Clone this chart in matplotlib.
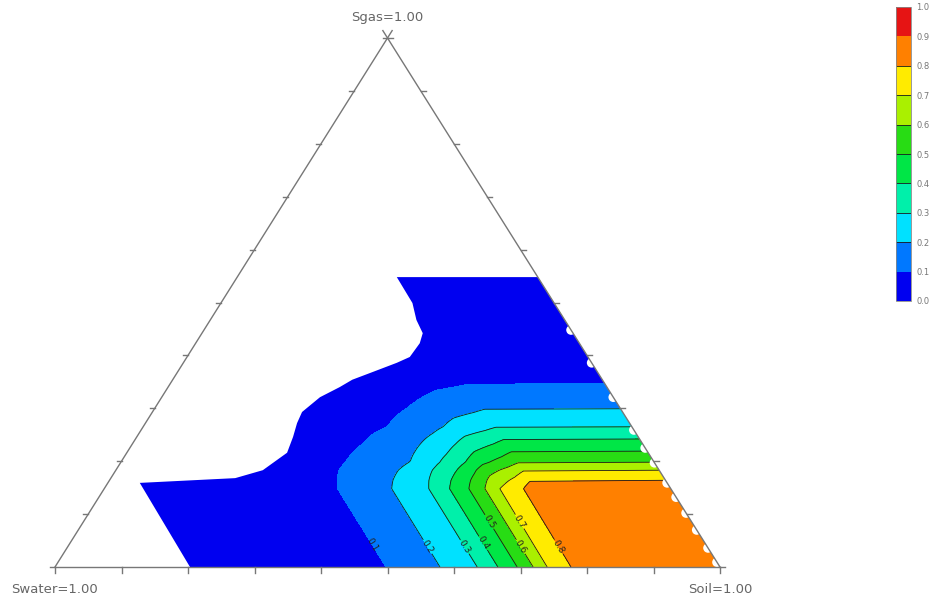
import numpy as np
import matplotlib.pyplot as plt
from matplotlib.colors import ListedColormap, BoundaryNorm
from matplotlib.patches import Polygon

# kro along the oil-water edge (Sg = 0) and the oil-gas edge (Sw = 0)
sw_table = [0.0, 0.205, 0.224, 0.260, 0.281, 0.305, 0.334, 0.365, 0.421, 0.502, 0.800]
krow_table = [0.88, 0.87, 0.80, 0.70, 0.60, 0.50, 0.40, 0.30, 0.20, 0.10, 0.0]
sg_table = [0.0, 0.148, 0.164, 0.183, 0.198, 0.219, 0.242, 0.265, 0.299, 0.346, 0.555]
krog_table = [0.88, 0.87, 0.80, 0.70, 0.60, 0.50, 0.40, 0.30, 0.20, 0.10, 0.0]
kro_cw = 0.88

levels = [0.0, 0.1, 0.2, 0.3, 0.4, 0.5, 0.6, 0.7, 0.8, 0.9, 1.0]
level_colors = ["#0000f0", "#0078ff", "#00e1ff", "#00f0aa", "#00e646",
                "#28dc14", "#aaf000", "#ffeb00", "#ff8000", "#e61414"]
line_levels = [0.1, 0.2, 0.3, 0.4, 0.5, 0.6, 0.7, 0.8]
# gas saturation at which each contour label sits
label_sg = [0.042, 0.038, 0.038, 0.045, 0.085, 0.038, 0.085, 0.038]

# outline of the saturation region where kro is defined (Sw, Sg)
region_sw = [0.797, 0.793, 0.645, 0.596, 0.543, 0.519, 0.500, 0.482, 0.441,
             0.402, 0.376, 0.337, 0.293, 0.268, 0.240, 0.226, 0.223, 0.213,
             0.212, 0.0, 0.0]
region_sg = [0.0, 0.159, 0.168, 0.183, 0.216, 0.246, 0.272, 0.293, 0.321,
             0.340, 0.354, 0.369, 0.386, 0.397, 0.423, 0.442, 0.467, 0.499,
             0.548, 0.548, 0.0]
# missing nodes along the Sw = 0 edge
notch_sg = [0.448, 0.386, 0.321, 0.259, 0.225, 0.197, 0.159, 0.132, 0.102,
            0.070, 0.036, 0.009]


def to_xy(sw, sg):
    sw = np.asarray(sw, dtype=float)
    sg = np.asarray(sg, dtype=float)
    return 1 - sw - 0.5 * sg, sg


fig = plt.figure(figsize=(9.43, 6.01), dpi=100)
ax = fig.add_axes([55 / 943, 34 / 601, 665 / 943, 529 / 601])
ax.set_xlim(0, 1)
ax.set_ylim(0, 1)
ax.axis("off")

# field on a regular grid covering the triangle
gx, gy = np.meshgrid(np.linspace(0, 1, 601), np.linspace(0, 1, 601))
sg = gy
so = gx - 0.5 * gy
sw = 1 - so - sg
krow = np.interp(sw, sw_table, krow_table)
krog = np.interp(sg, sg_table, krog_table)
kro = krow * krog / kro_cw
kro = np.ma.masked_where((so < -0.02) | (sw < -0.02), kro)

cmap = ListedColormap(level_colors)
norm = BoundaryNorm(levels, cmap.N)

rx, ry = to_xy(region_sw, region_sg)
clip = Polygon(np.column_stack([rx, ry]), closed=True, facecolor="none",
               edgecolor="none", transform=ax.transData)
ax.add_patch(clip)

cf = ax.contourf(gx, gy, kro, levels=levels, cmap=cmap, norm=norm)
cf.set_clip_path(clip)

widths = [0.0 if v == 0.1 else 0.6 for v in line_levels]
cl = ax.contour(gx, gy, kro, levels=line_levels, colors="#1a1a1a",
                linewidths=widths)
cl.set_clip_path(clip)

# label each line on its lower (constant Sw) branch
label_pos = []
for lev, s in zip(line_levels, label_sg):
    sw_at = np.interp(-lev, -np.array(krow_table), sw_table)
    label_pos.append(to_xy(sw_at, s))
labels = ax.clabel(cl, levels=line_levels, manual=label_pos, fmt="%.1f",
                   fontsize=6.5, inline=True, inline_spacing=1)
for t in labels:
    t.set_color("#222222")

nx, ny = to_xy(np.zeros(len(notch_sg)), notch_sg)
ax.scatter(nx, ny, s=48, color="white", edgecolors="none", zorder=3,
           clip_on=False)

# triangle frame, with the two upper edges crossing past the apex
edge = dict(color="#777777", lw=1.0, zorder=4, clip_on=False)
ext = 0.014
ax.plot([0, 1], [0, 0], **edge)
ax.plot([0, 0.5 + 0.5 * ext], [0, 1 + ext], **edge)
ax.plot([1, 0.5 - 0.5 * ext], [0, 1 + ext], **edge)

ticks = np.linspace(0, 1, 11)
tx = 5 / 665
ty = 6 / 529
for t in ticks:
    ax.plot([t, t], [0, -ty], **edge)
    ax.plot([0.5 * t, 0.5 * t - tx], [t, t], **edge)
    ax.plot([1 - 0.5 * t, 1 - 0.5 * t + tx], [t, t], **edge)

lab = dict(fontsize=9.5, color="#666666", ha="center", va="center",
           textcoords="offset points", annotation_clip=False)
ax.annotate("Sgas=1.00", (0.5, 1), xytext=(0, 15), **lab)
ax.annotate("Swater=1.00", (0, 0), xytext=(0, -16), **lab)
ax.annotate("Soil=1.00", (1, 0), xytext=(0, -16), **lab)

cax = fig.add_axes([896 / 943, 300 / 601, 15 / 943, 294 / 601])
cbar = fig.colorbar(cf, cax=cax, ticks=levels)
cbar.add_lines(cl)
cbar.ax.tick_params(length=0, labelsize=6, labelcolor="#777777", pad=4)
cbar.ax.set_yticklabels([f"{v:.1f}" for v in levels])
cbar.outline.set_edgecolor("#888888")
cbar.outline.set_linewidth(0.6)

fig.savefig("out.png", dpi=100)
